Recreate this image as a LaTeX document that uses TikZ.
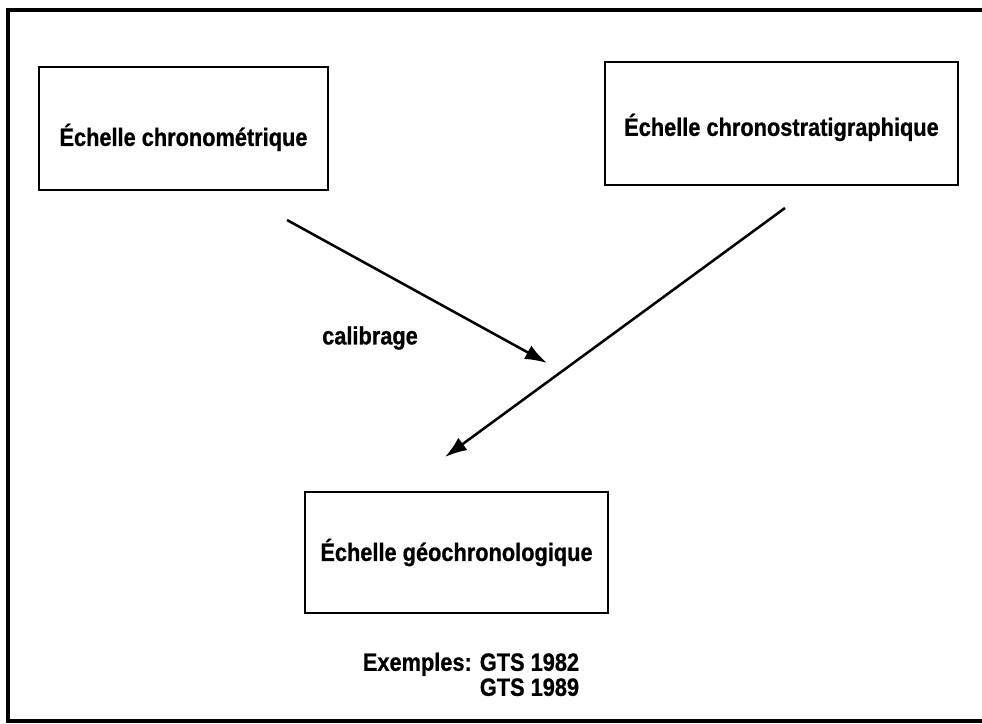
\documentclass[tikz,border=0pt]{standalone}
\usepackage{fontspec}
\usepackage{tikz}
\usetikzlibrary{arrows.meta}
\newfontfamily\narrowsans[FakeStretch=0.87, BoldFeatures={FakeBold=0.8}]{Liberation Sans}
\tikzstyle{box}=[fill=white, draw=black, line width=2pt, shape=rectangle, inner sep=0pt, font=\narrowsans\bfseries\fontsize{17.8}{17.8}\selectfont]
\tikzstyle{plain text}=[inner sep=0pt, font=\narrowsans\bfseries\fontsize{17.8}{17.8}\selectfont]
\tikzstyle{arrow edge}=[-{Latex[length=0.55cm, width=0.38cm]}, draw=black, line width=1.8pt]
\tikzstyle{frame edge}=[-, draw=black, line width=2.4pt]
\pgfdeclarelayer{nodelayer}
\pgfdeclarelayer{edgelayer}
\pgfsetlayers{main,nodelayer,edgelayer}

\begin{document}
\begin{tikzpicture}
	\useasboundingbox (0,0) rectangle (24.55,-18.1);
	\draw [style=frame edge] (24.6,-0.25) -- (0.2,-0.25) -- (0.2,-18.025) -- (24.6,-18.025);
	\begin{pgfonlayer}{nodelayer}
		\node [style=box, minimum width=7.225cm, minimum height=3.075cm, text height=1cm] (0) at (4.5875,-3.2125) {Échelle chronométrique};
		\node [style=box, minimum width=8.825cm, minimum height=3.075cm, text height=0.75cm] (1) at (19.5375,-3.0875) {Échelle chronostratigraphique};
		\node [style=box, minimum width=7.575cm, minimum height=3.025cm] (2) at (11.4125,-13.8125) {Échelle géochronologique};
		\node [style=plain text] (3) at (9.25,-8.45) {calibrage};
		\node [style=plain text] (4) at (11.775,-16.95) {\begin{tabular}{@{}l@{ }l@{}}Exemples: & GTS 1982\\ & GTS 1989\end{tabular}};
		\coordinate (5) at (7.175,-5.5);
		\coordinate (6) at (13.675,-9.075);
		\coordinate (7) at (19.625,-5.2);
		\coordinate (8) at (11.125,-11.425);
	\end{pgfonlayer}
	\begin{pgfonlayer}{edgelayer}
		\draw [style=arrow edge] (5) to (6);
		\draw [style=arrow edge] (7) to (8);
	\end{pgfonlayer}
\end{tikzpicture}
\end{document}
